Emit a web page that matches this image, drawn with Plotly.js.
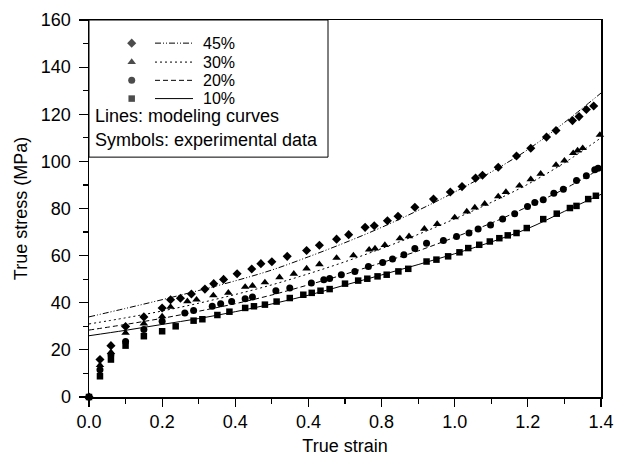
<!DOCTYPE html>
<html>
<head>
<meta charset="utf-8">
<script src="https://cdn.plot.ly/plotly-3.0.1.min.js"></script>
<style>html,body{margin:0;padding:0;background:#fff;}#chart{width:617px;height:459px;}</style>
</head>
<body>
<div id="chart"></div>
<script>
// ---- experimental data (symbols) ----
const sq_x = [0,0.03,0.06,0.1,0.15,0.2,0.237,0.286,0.31,0.351,0.384,0.427,0.451,0.481,0.513,0.549,0.586,0.609,0.633,0.658,0.7,0.736,0.761,0.789,0.814,0.846,0.873,0.923,0.95,0.982,1.013,1.037,1.067,1.096,1.122,1.145,1.169,1.197,1.242,1.279,1.315,1.333,1.365,1.386];
const sq_y = [0,8.8,15.9,21.8,25.8,27.9,30,32.4,33,34.8,36.2,37.8,38.5,39.2,40.5,42,43.4,44.2,45.1,45.8,48.1,49.4,50.2,51.2,51.9,53.3,54.4,57.5,58.3,59.7,61.4,63.2,64.6,66,67.4,68.6,69.6,71.7,75.5,77.8,80.2,81.1,84,85.4];

const ci_x = [0,0.03,0.06,0.1,0.15,0.2,0.262,0.286,0.337,0.36,0.39,0.427,0.447,0.511,0.549,0.608,0.642,0.658,0.69,0.727,0.764,0.803,0.83,0.861,0.891,0.923,0.969,1.005,1.039,1.064,1.098,1.131,1.164,1.199,1.219,1.242,1.271,1.297,1.333,1.36,1.383,1.392];
const ci_y = [0,11.6,17.9,23.6,28.6,32.1,35.7,36.7,38.5,39.6,40.5,41.7,42.4,45.1,46.3,48.4,49.8,50.3,51.9,53.3,55.4,57.1,58.6,60.4,63,65.3,66.4,68.1,69.6,71.3,73,75.5,77.8,80.8,82.5,83.7,86.5,88.2,91.9,93.9,96.4,97.1];

const tr_x = [0,0.03,0.06,0.1,0.15,0.2,0.223,0.269,0.294,0.34,0.381,0.427,0.447,0.481,0.521,0.56,0.595,0.63,0.677,0.723,0.766,0.782,0.809,0.85,0.875,0.917,0.952,1.0,1.033,1.055,1.082,1.119,1.14,1.177,1.208,1.235,1.277,1.3,1.324,1.336,1.35,1.397];
const tr_y = [0,13.5,19,27.2,31.1,34.2,38.2,40.6,41.3,43.1,44.2,46.7,47.2,48.6,50.8,52.3,54.5,56.3,59,60.1,62.5,63,64.5,67.3,68.2,71.4,73.4,76.2,78.7,80.4,82,85.1,87,89.7,92.4,94.7,98.5,100.3,103.5,104.6,105.6,111.2];

const di_x = [0,0.03,0.06,0.1,0.15,0.2,0.223,0.25,0.28,0.317,0.341,0.368,0.405,0.445,0.47,0.5,0.542,0.595,0.63,0.677,0.71,0.755,0.78,0.816,0.845,0.891,0.942,0.988,1.02,1.057,1.076,1.119,1.169,1.208,1.251,1.277,1.322,1.34,1.36,1.38];
const di_y = [0,15.9,21.8,29.9,34,37.8,41.3,41.9,43.7,45.8,48.1,49.9,52.3,54.3,56.6,57.4,59.7,62.2,64.4,67,68.9,72,72.7,74.8,76.7,80.5,84,87,89.3,92.9,94.1,97.5,102.3,105.6,110.3,113.1,117.3,119,122,123.5];

// ---- modeling curves (lines) ----
const model_x   = [0,0.1,0.2,0.3,0.4,0.5,0.6,0.7,0.8,0.9,1.0,1.1,1.2,1.3,1.4];
const model_10  = [26,28.3,30.8,33.3,36.2,39.5,43.2,47.5,51.8,56.2,60.8,65.8,71.5,78.8,86];
const model_20  = [28.4,30.8,33.4,36.4,39.6,43.3,47.6,52.1,57,62,67.8,73.8,80.8,88.3,97];
const model_30  = [31,33.6,36.5,39.8,43.5,47.6,52.3,57.4,63,69,75.6,82.6,90.3,99.4,110];
const model_45  = [34,37.6,41.3,45.2,49.3,53.9,59.5,65.5,72,79.2,87,95.5,105,116.5,129];

// ---- labels ----
const seriesNames = ["45%","30%","20%","10%"];
const xTickVals = [0,0.2,0.4,0.6,0.8,1.0,1.2,1.4];
const xTickText = ["0.0","0.2","0.4","0.4","0.8","1.0","1.2","1.4"];
const yTickVals = [0,20,40,60,80,100,120,140,160];

const FONT = "Liberation Sans, Arial, Helvetica, sans-serif";
const FS = 18;
const dashes = ["6px,2px,1px,2px,1px,2px", "2px,3px", "5px,3px", "solid"];
const symbols = ["diamond","triangle-up","circle","square"];
const sizes = [7,7.5,7,6.5];

function mk(x,y,sym,sz){return {x:x,y:y,mode:"markers",type:"scatter",cliponaxis:false,showlegend:false,
  marker:{symbol:sym,size:sz,color:"#000",line:{width:0}},hoverinfo:"skip"};}
function ln(y,dash){return {x:model_x,y:y,mode:"lines",type:"scatter",showlegend:false,
  line:{color:"#000",width:1,dash:dash,shape:"spline",smoothing:1},hoverinfo:"skip"};}

const traces = [
  ln(model_45,dashes[0]), ln(model_30,dashes[1]), ln(model_20,dashes[2]), ln(model_10,dashes[3]),
  mk(di_x,di_y,symbols[0],sizes[0]), mk(tr_x,tr_y,symbols[1],sizes[1]),
  mk(ci_x,ci_y,symbols[2],sizes[2]), mk(sq_x,sq_y,symbols[3],sizes[3])
];

// legend (drawn in paper coords of plot area 89..601 x 19.5..397.5)
const L = 89, R = 601, T = 19.5, B = 397.5;
const px = p => (p - L) / (R - L);
const py = p => (B - p) / (B - T);
const rowsY = [42.7, 61.7, 80, 98.3];

traces.push({x:rowsY.map(()=>px(131.7)), y:rowsY.map(py), xaxis:"x2", yaxis:"y2", mode:"markers", type:"scatter",
  cliponaxis:false, showlegend:false, hoverinfo:"skip",
  marker:{symbol:symbols, size:sizes, color:"#000", line:{width:0}}});

const shapes = [{type:"rect", xref:"paper", yref:"paper", x0:0, x1:px(328), y0:py(157), y1:1,
  line:{color:"#000", width:1}}];
const annotations = [];
rowsY.forEach((ry,i)=>{
  shapes.push({type:"line", xref:"paper", yref:"paper", x0:px(155), x1:px(193), y0:py(ry), y1:py(ry),
    line:{color:"#000", width:1, dash:dashes[i]}});
  annotations.push({xref:"paper", yref:"paper", x:px(202), y:py(ry), xanchor:"left", yanchor:"middle",
    text:seriesNames[i], showarrow:false, borderpad:0, font:{family:FONT, size:16, color:"#000"}});
});
annotations.push({xref:"paper", yref:"paper", x:px(94), y:py(116), xanchor:"left", yanchor:"middle",
  text:"Lines: modeling curves", showarrow:false, borderpad:0, font:{family:FONT, size:FS, color:"#000"}});
annotations.push({xref:"paper", yref:"paper", x:px(94), y:py(140), xanchor:"left", yanchor:"middle",
  text:"Symbols: experimental data", showarrow:false, borderpad:0, font:{family:FONT, size:FS, color:"#000"}});

const layout = {
  width:617, height:459,
  margin:{l:L, r:617-R, t:T, b:459-B},
  paper_bgcolor:"#fff", plot_bgcolor:"#fff",
  font:{family:FONT, size:FS, color:"#000"},
  showlegend:false,
  xaxis:{range:[0,1.4], tickvals:xTickVals, ticktext:xTickText, ticks:"outside", ticklen:8, tickwidth:1.2,
    tickcolor:"#000", showline:true, linecolor:"#000", linewidth:1.5, mirror:true, showgrid:false, zeroline:false,
    minor:{ticks:"outside", dtick:0.1, ticklen:5, tickwidth:1.2, tickcolor:"#000", showgrid:false},
    tickfont:{family:FONT, size:FS}, title:{text:"True strain", font:{family:FONT, size:FS}, standoff:8}},
  yaxis:{range:[0,160], tickvals:yTickVals, ticks:"outside", ticklen:9, tickwidth:1.2, ticklabelstandoff:4,
    tickcolor:"#000", showline:true, linecolor:"#000", linewidth:1.5, mirror:true, showgrid:false, zeroline:false,
    minor:{ticks:"outside", dtick:10, ticklen:5, tickwidth:1.2, tickcolor:"#000", showgrid:false},
    tickfont:{family:FONT, size:FS}, title:{text:"True stress (MPa)", font:{family:FONT, size:FS}, standoff:8}},
  xaxis2:{range:[0,1], overlaying:"x", anchor:"y2", visible:false, fixedrange:true},
  yaxis2:{range:[0,1], overlaying:"y", anchor:"x2", visible:false, fixedrange:true},
  shapes:shapes, annotations:annotations
};

Plotly.newPlot("chart", traces, layout, {staticPlot:true, displayModeBar:false});
</script>
</body>
</html>
